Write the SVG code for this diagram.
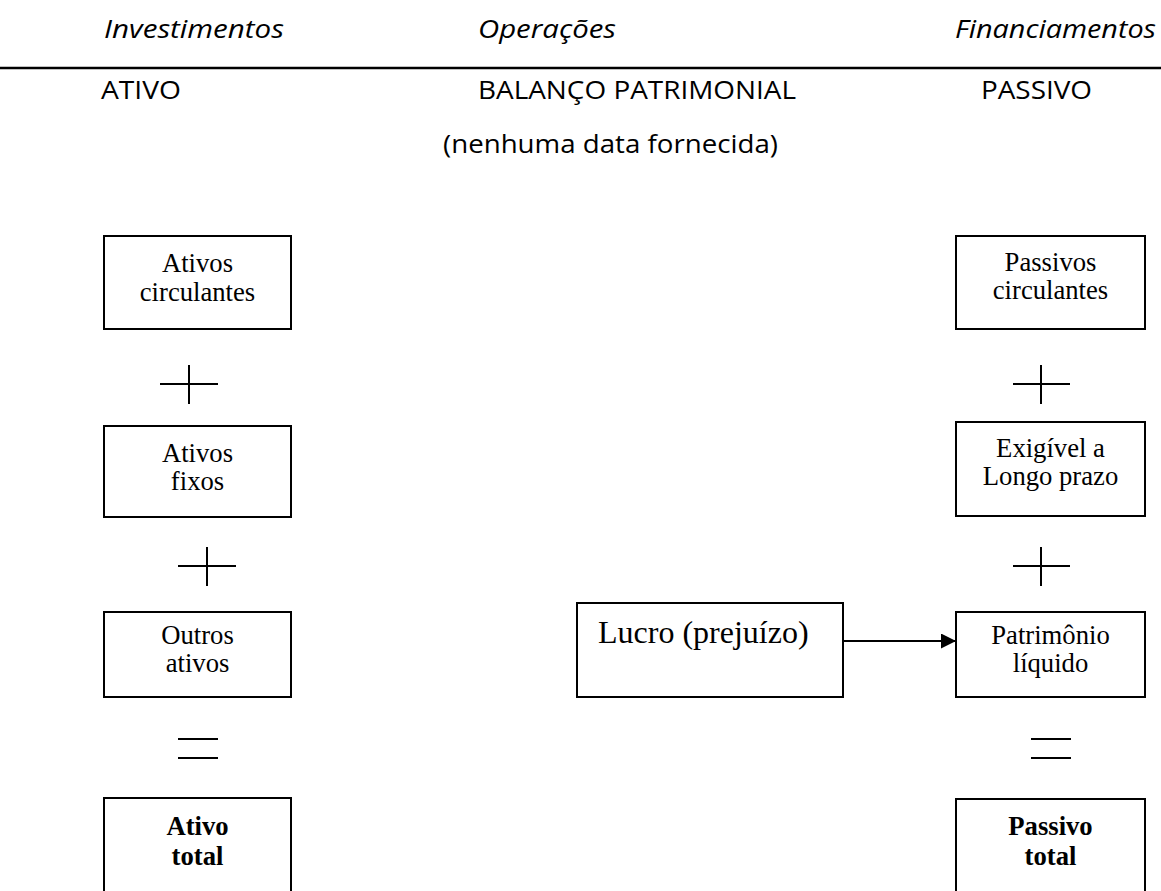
<svg xmlns="http://www.w3.org/2000/svg" width="1161" height="891" viewBox="0 0 1161 891">
<style>
.hdr{font-family:"Open Sans","Liberation Sans",sans-serif;font-size:26px;fill:#000}
.it{font-style:italic}
.box{fill:#fff;stroke:#000;stroke-width:2}
.bt{font-family:"Liberation Serif","Times New Roman",serif;font-size:26.67px;fill:#000;text-anchor:middle}
.bold{font-weight:bold}
.sym{stroke:#000;stroke-width:2;fill:none}
.conn{stroke:#000;stroke-width:2;fill:none}
</style>
<defs>
<marker id="ah" markerWidth="15" markerHeight="15" refX="15" refY="7.5" orient="auto" markerUnits="userSpaceOnUse">
<path d="M0,0 L15,7.5 L0,15 Z" fill="#000"/>
</marker>
</defs>
<rect width="1161" height="891" fill="#fff"/>
<g id="header">
<text class="hdr it" x="104" y="38" textLength="180" lengthAdjust="spacingAndGlyphs">Investimentos</text>
<text class="hdr it" x="478" y="38" textLength="138" lengthAdjust="spacingAndGlyphs">Operações</text>
<text class="hdr it" x="955" y="38" textLength="201" lengthAdjust="spacingAndGlyphs">Financiamentos</text>
<line x1="0" y1="68" x2="1161" y2="68" stroke="#000" stroke-width="2.5"/>
<text class="hdr" x="101" y="99" textLength="80" lengthAdjust="spacingAndGlyphs">ATIVO</text>
<text class="hdr" x="478" y="99" textLength="318" lengthAdjust="spacingAndGlyphs">BALANÇO PATRIMONIAL</text>
<text class="hdr" x="981" y="99" textLength="111" lengthAdjust="spacingAndGlyphs">PASSIVO</text>
<text class="hdr" x="443" y="153" textLength="335" lengthAdjust="spacingAndGlyphs">(nenhuma data fornecida)</text>
</g>
<g id="ativos-circulantes">
<rect class="box" x="104" y="236" width="187" height="93"/>
<text class="bt" x="197.5" y="272">Ativos</text>
<text class="bt" x="197.5" y="301">circulantes</text>
</g>
<g id="ativos-fixos">
<rect class="box" x="104" y="426" width="187" height="91"/>
<text class="bt" x="197.5" y="462">Ativos</text>
<text class="bt" x="197.5" y="490">fixos</text>
</g>
<g id="outros-ativos">
<rect class="box" x="104" y="612" width="187" height="85"/>
<text class="bt" x="197.5" y="644">Outros</text>
<text class="bt" x="197.5" y="672">ativos</text>
</g>
<g id="ativo-total">
<rect class="box" x="104" y="798" width="187" height="100"/>
<text class="bt bold" x="197.5" y="835">Ativo</text>
<text class="bt bold" x="197.5" y="865">total</text>
</g>
<g id="passivos-circulantes">
<rect class="box" x="956" y="236" width="189" height="93"/>
<text class="bt" x="1050.5" y="271">Passivos</text>
<text class="bt" x="1050.5" y="299">circulantes</text>
</g>
<g id="exigivel">
<rect class="box" x="956" y="422" width="189" height="94"/>
<text class="bt" x="1050.5" y="457">Exigível a</text>
<text class="bt" x="1050.5" y="485">Longo prazo</text>
</g>
<g id="patrimonio">
<rect class="box" x="956" y="612" width="189" height="85"/>
<text class="bt" x="1050.5" y="644">Patrimônio</text>
<text class="bt" x="1050.5" y="672">líquido</text>
</g>
<g id="passivo-total">
<rect class="box" x="956" y="799" width="189" height="100"/>
<text class="bt bold" x="1050.5" y="835">Passivo</text>
<text class="bt bold" x="1050.5" y="865">total</text>
</g>
<g id="lucro">
<rect class="box" x="577" y="603" width="266" height="94"/>
<text x="598" y="643" font-family="Liberation Serif,Times New Roman,serif" font-size="32">Lucro (prejuízo)</text>
</g>
<g id="symbols">
<path class="sym" d="M160,384 H218 M189,365 V404"/>
<path class="sym" d="M178,566 H236 M207,547 V586"/>
<path class="sym" d="M178,739 H218 M178,758 H218"/>
<path class="sym" d="M1013,384 H1070 M1041,365 V404"/>
<path class="sym" d="M1013,566 H1070 M1041,547 V586"/>
<path class="sym" d="M1031,739 H1071 M1031,758 H1071"/>
</g>
<g id="connectors">
<line class="conn" x1="843" y1="641" x2="956" y2="641" marker-end="url(#ah)"/>
</g>
</svg>
